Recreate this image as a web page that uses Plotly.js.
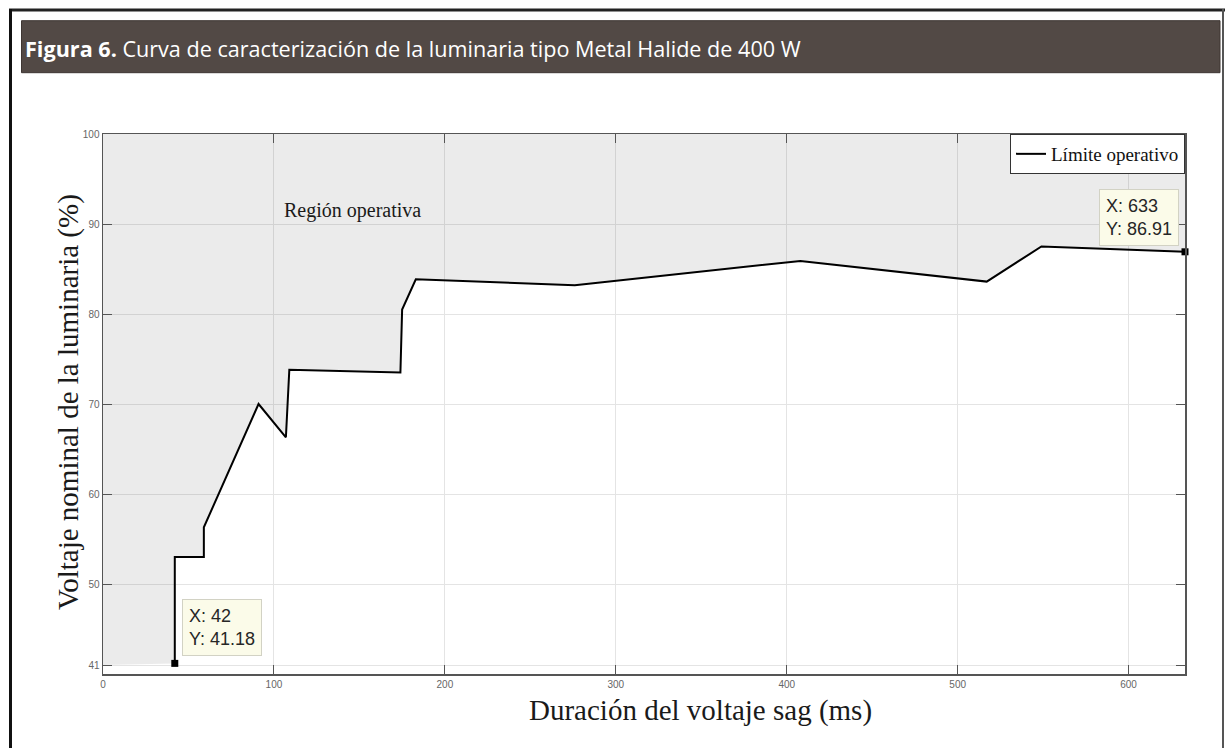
<!DOCTYPE html>
<html>
<head>
<meta charset="utf-8">
<script src="https://cdn.plot.ly/plotly-3.0.1.min.js"></script>
<style>
  html, body { margin: 0; padding: 0; background: #ffffff; }
  #chart { width: 1228px; height: 748px; }
</style>
</head>
<body>
<div id="chart"></div>
<script>
// ---- data ----
const duracion = [42, 42, 59, 59, 91, 107, 109, 174, 175, 183, 276, 408, 517, 549, 633];
const voltaje  = [41.18, 53, 53, 56.3, 70, 66.3, 73.8, 73.5, 80.5, 83.85, 83.2, 85.9, 83.6, 87.5, 86.91];
const xTicks = [0, 100, 200, 300, 400, 500, 600];
const yTicks = [41, 50, 60, 70, 80, 90, 100];
const xRange = [0, 633];
const yRange = [40, 100];
const serieNombre = 'Límite operativo';
const regionTexto = 'Región operativa';
const tituloFigura = '<b>Figura 6.</b> Curva de caracterización de la luminaria tipo Metal Halide de 400 W';
const tituloX = 'Duración del voltaje sag (ms)';
const tituloY = 'Voltaje nominal de la luminaria (%)';

// ---- layout geometry (pixels) ----
const W = 1228, H = 748;
const M = {l: 103, r: 43, t: 134, b: 74};
const PW = W - M.l - M.r, PH = H - M.t - M.b;
const PX = px => (px - M.l) / PW;
const PY = py => (H - M.b - py) / PH;

// region fill: from the lower-left axis corner along the curve up to the top of the plot
const yGridLow = yTicks[0];
const fillX = [xRange[0]].concat(duracion, [xRange[1], xRange[0]]);
const fillY = [yGridLow].concat(voltaje, [yRange[1], yRange[1]]);

const n = duracion.length;
const fmt = v => (Math.round(v * 100) / 100).toString();

const traces = [
  {
    x: fillX, y: fillY, type: 'scatter', mode: 'lines',
    fill: 'toself', fillcolor: 'rgba(0,0,0,0.08)',
    line: {width: 0, color: 'rgba(0,0,0,0)'},
    showlegend: false, hoverinfo: 'skip'
  },
  {
    x: duracion, y: voltaje, type: 'scatter', mode: 'lines',
    name: serieNombre,
    line: {color: '#000000', width: 2}
  },
  {
    x: [duracion[0], duracion[n - 1]], y: [voltaje[0], voltaje[n - 1]],
    type: 'scatter', mode: 'markers', showlegend: false, cliponaxis: false,
    marker: {symbol: 'square', size: 7, color: '#000000'}
  }
];

const tipStyle = {
  showarrow: false, align: 'left',
  bgcolor: '#fbfbe9', bordercolor: '#d2d2c4', borderwidth: 1, borderpad: 6,
  font: {family: 'Liberation Sans, Arial, sans-serif', size: 18, color: '#262626'}
};

const layout = {
  width: W, height: H,
  margin: M,
  paper_bgcolor: '#ffffff', plot_bgcolor: '#ffffff',
  showlegend: true,
  legend: {
    x: 1, y: 1, xanchor: 'right', yanchor: 'top',
    bgcolor: '#ffffff', bordercolor: '#333333', borderwidth: 1,
    font: {family: 'Liberation Serif, Times New Roman, serif', size: 19, color: '#111111'},
    itemwidth: 30, tracegroupgap: 0
  },
  xaxis: {
    range: xRange, tickvals: xTicks, ticktext: xTicks.map(String),
    showgrid: true, gridcolor: '#e4e4e4', gridwidth: 1, zeroline: false,
    showline: true, linecolor: '#555555', linewidth: 1.5, mirror: 'ticks',
    ticks: 'inside', ticklen: 9, tickcolor: '#555555', tickwidth: 1,
    tickfont: {family: 'Liberation Sans, Arial, sans-serif', size: 10, color: '#666666'},
    fixedrange: true
  },
  yaxis: {
    range: yRange, tickvals: yTicks, ticktext: yTicks.map(String),
    showgrid: true, gridcolor: '#e4e4e4', gridwidth: 1, zeroline: false,
    showline: true, linecolor: '#555555', linewidth: 1.5, mirror: 'ticks',
    ticks: 'inside', ticklen: 9, tickcolor: '#555555', tickwidth: 1,
    tickfont: {family: 'Liberation Sans, Arial, sans-serif', size: 10, color: '#666666'},
    fixedrange: true
  },
  shapes: [
    // title bar
    {type: 'rect', xref: 'paper', yref: 'paper', layer: 'below',
     x0: PX(21.5), x1: PX(1220), y0: PY(72.7), y1: PY(20.7),
     fillcolor: '#524945', line: {color: '#3e3633', width: 1}},
    // outer frame
    {type: 'line', xref: 'paper', yref: 'paper', x0: PX(9), x1: PX(1225), y0: PY(10), y1: PY(10),
     line: {color: '#222222', width: 3}},
    {type: 'line', xref: 'paper', yref: 'paper', x0: PX(10.5), x1: PX(10.5), y0: PY(9), y1: PY(749),
     line: {color: '#111111', width: 3}},
    {type: 'line', xref: 'paper', yref: 'paper', x0: PX(1223), x1: PX(1223), y0: PY(9), y1: PY(749),
     line: {color: '#555555', width: 2}}
  ],
  annotations: [
    {
      xref: 'paper', yref: 'paper', x: PX(23), y: PY(49), xanchor: 'left', yanchor: 'middle',
      showarrow: false, text: tituloFigura,
      font: {family: 'Open Sans, Noto Sans, sans-serif', size: 21.6, color: '#ffffff'}
    },
    {
      xref: 'x', yref: 'y', x: 104.5, y: 91.55, xanchor: 'left', yanchor: 'middle',
      showarrow: false, text: regionTexto,
      font: {family: 'Liberation Serif, Times New Roman, serif', size: 20, color: '#1a1a1a'}
    },
    {
      xref: 'paper', yref: 'paper', x: PX(700), y: PY(710), xanchor: 'center', yanchor: 'middle',
      showarrow: false, text: tituloX,
      font: {family: 'Liberation Serif, Times New Roman, serif', size: 29, color: '#1a1a1a'}
    },
    {
      xref: 'paper', yref: 'paper', x: PX(68), y: PY(402), xanchor: 'center', yanchor: 'middle',
      showarrow: false, textangle: -90, text: tituloY,
      font: {family: 'Liberation Serif, Times New Roman, serif', size: 29, color: '#1a1a1a'}
    },
    Object.assign({}, tipStyle, {
      xref: 'x', yref: 'y', x: duracion[0], y: voltaje[0],
      xanchor: 'left', yanchor: 'bottom', xshift: 7, yshift: 7,
      text: 'X: ' + fmt(duracion[0]) + '<br>Y: ' + fmt(voltaje[0])
    }),
    Object.assign({}, tipStyle, {
      xref: 'x', yref: 'y', x: duracion[n - 1], y: voltaje[n - 1],
      xanchor: 'right', yanchor: 'bottom', xshift: -6, yshift: 6,
      text: 'X: ' + fmt(duracion[n - 1]) + '<br>Y: ' + fmt(voltaje[n - 1])
    })
  ]
};

Plotly.newPlot('chart', traces, layout, {displayModeBar: false, staticPlot: true});
</script>
</body>
</html>
